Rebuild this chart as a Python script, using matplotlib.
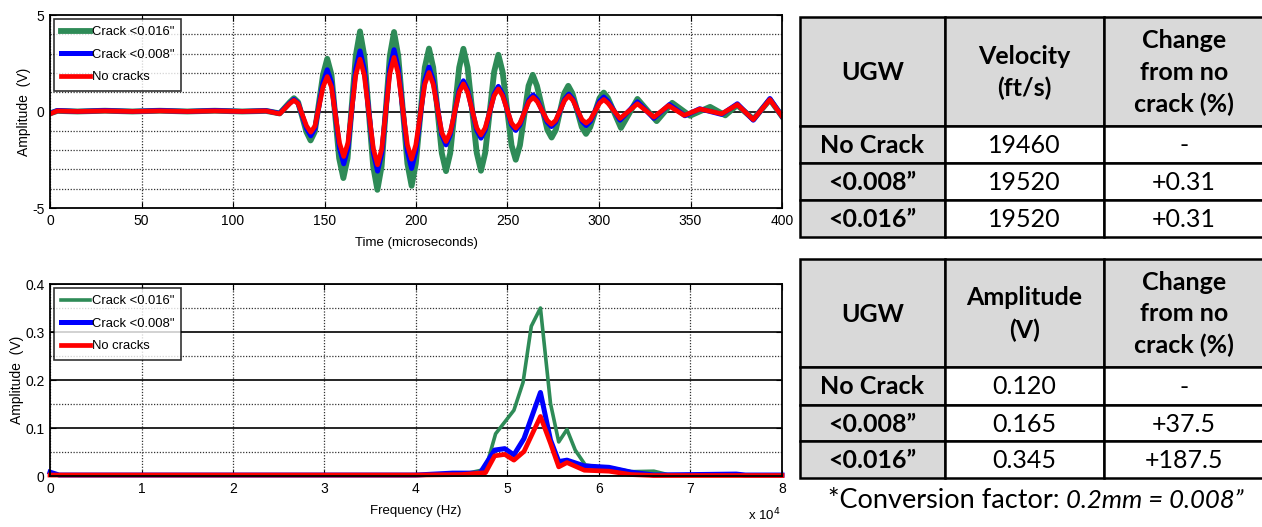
import matplotlib
matplotlib.use('Agg')
import matplotlib.pyplot as plt
from matplotlib.patches import Rectangle
from matplotlib.ticker import FuncFormatter

plt.rcParams['font.family'] = ['Liberation Sans', 'DejaVu Sans']
plt.rcParams['axes.unicode_minus'] = False

# * time signals (microseconds, V): peaks, troughs and their shoulders
t_crack16 = [0, 4, 15, 30, 45, 60, 75, 90, 105, 118, 125.5,
             131.0, 133.3, 135.6, 140.1, 142.4, 144.7, 149.2, 151.5, 153.8, 158.0, 160.3, 162.6,
             167.1, 169.4, 171.7, 176.6, 178.9, 181.2, 185.7, 188.0, 190.3, 195.3, 197.6, 199.9,
             204.8, 207.1, 209.4, 214.1, 216.4, 218.7, 223.6, 225.9, 228.2, 233.2, 235.5, 237.8,
             242.7, 245.0, 247.3, 252.2, 254.5, 256.8, 261.5, 263.8, 266.1, 271.8, 274.1, 276.4,
             280.9, 283.2, 285.5, 290.6, 292.9, 295.2, 300.3, 302.6, 304.9,
             312.0, 321.0, 331.5, 340.0, 349.7, 360.7, 369.0, 375.5, 384.4, 393.4, 400]
v_crack16 = [-0.1, 0.03, 0.0, 0.04, 0.0, 0.04, 0.0, 0.04, 0.0, 0.03, -0.1,
             0.48, 0.69, 0.48, -1.05, -1.5, -1.05, 1.91, 2.73, 1.91, -2.42, -3.45, -2.42,
             2.9, 4.15, 2.9, -2.84, -4.06, -2.84, 2.88, 4.12, 2.88, -2.7, -3.85, -2.7,
             2.28, 3.26, 2.28, -2.16, -3.09, -2.16, 2.28, 3.25, 2.28, -2.15, -3.07, -2.15,
             2.06, 2.94, 2.06, -1.75, -2.5, -1.75, 1.33, 1.9, 1.33, -0.95, -1.35, -0.95,
             0.93, 1.33, 0.93, -0.81, -1.16, -0.81, 0.69, 0.98, 0.69,
             -0.85, 0.65, -0.5, 0.45, -0.22, 0.24, -0.2, 0.33, -0.4, 0.62, -0.25]

t_crack08 = [0, 4, 15, 30, 45, 60, 75, 90, 105, 118, 125.5,
             131.0, 133.3, 135.6, 140.2, 142.5, 144.8, 149.2, 151.5, 153.8, 158.2, 160.5, 162.8,
             167.1, 169.4, 171.7, 176.7, 179.0, 181.3, 185.7, 188.0, 190.3, 195.3, 197.6, 199.9,
             204.8, 207.1, 209.4, 214.1, 216.4, 218.7, 223.6, 225.9, 228.2, 233.2, 235.5, 237.8,
             242.7, 245.0, 247.3, 252.2, 254.5, 256.8, 261.7, 264.0, 266.3, 271.7, 274.0, 276.3,
             281.2, 283.5, 285.8, 290.7, 293.0, 295.3, 300.3, 302.6, 304.9,
             311.5, 321.0, 330.0, 338.5, 347.0, 355.0, 367.0, 375.6, 384.3, 393.4, 400]
v_crack08 = [-0.1, 0.05, 0.0, 0.05, 0.0, 0.05, 0.0, 0.05, 0.0, 0.04, -0.1,
             0.43, 0.62, 0.43, -0.88, -1.26, -0.88, 1.51, 2.16, 1.51, -1.9, -2.71, -1.9,
             2.2, 3.14, 2.2, -2.16, -3.09, -2.16, 2.24, 3.2, 2.24, -2.07, -2.95, -2.07,
             1.61, 2.3, 1.61, -1.21, -1.73, -1.21, 1.11, 1.59, 1.11, -0.97, -1.38, -0.97,
             0.91, 1.3, 0.91, -0.69, -0.98, -0.69, 0.6, 0.86, 0.6, -0.55, -0.78, -0.55,
             0.63, 0.9, 0.63, -0.51, -0.73, -0.51, 0.53, 0.75, 0.53,
             -0.45, 0.5, -0.35, 0.36, -0.22, 0.14, -0.15, 0.4, -0.45, 0.67, -0.25]

t_nocrack = [0, 4, 15, 30, 45, 60, 75, 90, 105, 118, 125.5,
             131.0, 133.3, 135.6, 140.2, 142.5, 144.8, 149.2, 151.5, 153.8, 158.2, 160.5, 162.8,
             167.1, 169.4, 171.7, 176.7, 179.0, 181.3, 185.7, 188.0, 190.3, 195.3, 197.6, 199.9,
             204.8, 207.1, 209.4, 214.1, 216.4, 218.7, 223.6, 225.9, 228.2, 233.2, 235.5, 237.8,
             242.7, 245.0, 247.3, 252.2, 254.5, 256.8, 261.7, 264.0, 266.3, 271.7, 274.0, 276.3,
             281.2, 283.5, 285.8, 290.7, 293.0, 295.3, 300.3, 302.6, 304.9,
             311.5, 321.0, 330.0, 338.0, 346.5, 355.2, 367.0, 375.6, 384.3, 393.4, 400]
v_nocrack = [-0.12, 0.03, 0.0, 0.03, 0.0, 0.03, 0.0, 0.03, 0.0, 0.03, -0.12,
             0.41, 0.58, 0.41, -0.75, -1.07, -0.75, 1.27, 1.81, 1.27, -1.63, -2.33, -1.63,
             1.9, 2.71, 1.9, -1.93, -2.76, -1.93, 1.96, 2.8, 1.96, -1.73, -2.47, -1.73,
             1.41, 2.02, 1.41, -1.09, -1.55, -1.09, 1.0, 1.43, 1.0, -0.85, -1.21, -0.85,
             0.82, 1.17, 0.82, -0.6, -0.86, -0.6, 0.51, 0.73, 0.51, -0.46, -0.66, -0.46,
             0.57, 0.81, 0.57, -0.42, -0.6, -0.42, 0.43, 0.62, 0.43,
             -0.36, 0.4, -0.29, 0.31, -0.2, 0.13, -0.12, 0.36, -0.42, 0.62, -0.25]

# * spectra (Hz, V)
f_crack16 = [0, 40000, 45000, 47600, 48700, 50700, 51700, 52600, 53600, 54700, 55600, 56500,
             57400, 58500, 59900, 61300, 63500, 66000, 67500, 70000, 80000]
a_crack16 = [0.002, 0.002, 0.003, 0.014, 0.088, 0.137, 0.195, 0.312, 0.350, 0.151, 0.071, 0.097,
             0.054, 0.023, 0.019, 0.017, 0.009, 0.010, 0.003, 0.002, 0.002]

f_crack08 = [0, 1000, 40000, 44000, 47000, 48600, 49700, 50700, 51800, 53600, 54700, 55600,
             56500, 58400, 61100, 63500, 66000, 75000, 76000, 80000]
a_crack08 = [0.008, 0.002, 0.002, 0.006, 0.006, 0.054, 0.057, 0.044, 0.078, 0.174, 0.075, 0.030,
             0.033, 0.021, 0.018, 0.008, 0.002, 0.004, 0.002, 0.002]

f_nocrack = [0, 40000, 45000, 47600, 48600, 49700, 50700, 51800, 53600, 54700, 55600, 56500,
             58400, 61100, 63500, 66000, 80000]
a_nocrack = [0.002, 0.002, 0.003, 0.007, 0.042, 0.045, 0.033, 0.051, 0.124, 0.068, 0.019, 0.028,
             0.012, 0.010, 0.003, 0.001, 0.001]

labels = ['Crack <0.016"', 'Crack <0.008"', 'No cracks']
colors = ['#2E8B57', '#0000FF', '#FF0000']

# * table contents
row_names = ['No Crack', '<0.008\u201d', '<0.016\u201d']
vel_header = ['UGW', 'Velocity\n(ft/s)', 'Change\nfrom no\ncrack (%)']
velocity = ['19460', '19520', '19520']
vel_change = ['-', '+0.31', '+0.31']
amp_header = ['UGW', 'Amplitude\n(V)', 'Change\nfrom no\ncrack (%)']
amplitude = ['0.120', '0.165', '0.345']
amp_change = ['-', '+37.5', '+187.5']

W, H = 1262, 527
fig = plt.figure(figsize=(W / 100, H / 100), dpi=100)


def px_axes(left, top, right, bottom):
    return fig.add_axes([left / W, 1 - bottom / H, (right - left) / W, (bottom - top) / H])


def style_axes(ax):
    ax.tick_params(direction='in', top=True, right=True, length=4, labelsize=10, pad=4)
    for s in ax.spines.values():
        s.set_linewidth(1.3)


def add_legend(ax):
    leg = ax.legend(loc='upper left', fontsize=9.4, frameon=True, fancybox=False, edgecolor='k',
                    borderaxespad=0.3, handlelength=2.2, handletextpad=0.15, labelspacing=0.8,
                    borderpad=0.55)
    leg.get_frame().set_linewidth(1.2)


dot = (0, (1, 1.3))

# * top: time domain
ax1 = px_axes(50, 15, 782, 208)
ax1.plot(t_crack16, v_crack16, color=colors[0], lw=4.2, label=labels[0], solid_joinstyle='round')
ax1.plot(t_crack08, v_crack08, color=colors[1], lw=3.6, label=labels[1], solid_joinstyle='round')
ax1.plot(t_nocrack, v_nocrack, color=colors[2], lw=3.4, label=labels[2], solid_joinstyle='round')
ax1.set_xlim(0, 400)
ax1.set_ylim(-5, 5)
ax1.set_xticks(range(0, 401, 50))
ax1.set_yticks([-5, 0, 5])
ax1.set_yticks(range(-4, 5), minor=True)
ax1.tick_params(which='minor', length=0)
ax1.grid(axis='x', which='major', color='0.2', lw=0.9, ls=dot)
ax1.grid(axis='y', which='minor', color='0.2', lw=0.9, ls=dot)
ax1.axhline(0, color='k', lw=1.2, zorder=1)
ax1.set_axisbelow(True)
style_axes(ax1)
ax1.set_xlabel('Time (microseconds)', fontsize=9.5, labelpad=7)
ax1.set_ylabel('Amplitude  (V)', fontsize=10, labelpad=1)
add_legend(ax1)

# * bottom: frequency domain
ax2 = px_axes(50, 284, 782, 476)
ax2.plot(f_crack16, a_crack16, color=colors[0], lw=2.6, label=labels[0], clip_on=False)
ax2.plot(f_crack08, a_crack08, color=colors[1], lw=3.6, label=labels[1], clip_on=False)
ax2.plot(f_nocrack, a_nocrack, color=colors[2], lw=3.4, label=labels[2], clip_on=False)
ax2.set_xlim(0, 80000)
ax2.set_ylim(0, 0.4)
ax2.set_xticks(range(0, 80001, 10000))
ax2.xaxis.set_major_formatter(FuncFormatter(lambda v, p: '%g' % (v / 1e4)))
ax2.set_yticks([0, 0.1, 0.2, 0.3, 0.4])
ax2.set_yticklabels(['0', '0.1', '0.2', '0.3', '0.4'])
ax2.set_yticks([0.05, 0.15, 0.25, 0.35], minor=True)
ax2.tick_params(which='minor', length=0)
ax2.grid(axis='x', which='major', color='0.2', lw=0.9, ls=dot)
ax2.grid(axis='y', which='major', color='k', lw=1.2, ls='-')
ax2.grid(axis='y', which='minor', color='0.2', lw=0.9, ls=dot)
ax2.set_axisbelow(True)
style_axes(ax2)
ax2.set_xlabel('Frequency (Hz)', fontsize=9.5, labelpad=7)
ax2.set_ylabel('Amplitude  (V)', fontsize=10, labelpad=1)
ax2.text(0.998, -0.205, 'x 10$^4$', transform=ax2.transAxes, ha='right', va='center', fontsize=9.5)
add_legend(ax2)

# * tables (pixel canvas)
axt = fig.add_axes([0, 0, 1, 1])
axt.set_xlim(0, W)
axt.set_ylim(H, 0)
axt.axis('off')

col_x = [800, 945, 1104, 1264]
gray = '#D9D9D9'
tfont = 'Lato'
tsize = 18


def draw_table(row_y, header, col2, col3):
    for c in range(3):
        axt.add_patch(Rectangle((col_x[c], row_y[0]), col_x[c + 1] - col_x[c], row_y[1] - row_y[0],
                                facecolor=gray, edgecolor='k', lw=1.8, clip_on=False))
        axt.text((col_x[c] + col_x[c + 1]) / 2, (row_y[0] + row_y[1]) / 2 + 1, header[c],
                 ha='center', va='center', fontsize=tsize, fontweight='bold', family=tfont,
                 linespacing=1.45)
    for r in range(3):
        y0, y1 = row_y[r + 1], row_y[r + 2]
        cells = [row_names[r], col2[r], col3[r]]
        for c in range(3):
            axt.add_patch(Rectangle((col_x[c], y0), col_x[c + 1] - col_x[c], y1 - y0,
                                    facecolor=gray if c == 0 else 'white', edgecolor='k',
                                    lw=1.8, clip_on=False))
            axt.text((col_x[c] + col_x[c + 1]) / 2, (y0 + y1) / 2 + 1, cells[c],
                     ha='center', va='center', fontsize=tsize, family=tfont,
                     fontweight='bold' if c == 0 else 'normal')


draw_table([17, 126, 163, 200, 237], vel_header, velocity, vel_change)
draw_table([259, 367, 405, 441, 478], amp_header, amplitude, amp_change)

# footnote: regular part then italic part, both on the same baseline
axt.text(828, 508, '*Conversion factor:', ha='left', va='baseline', fontsize=19.5, family=tfont)
axt.text(1244, 508, '0.2mm = 0.008\u201d', ha='right', va='baseline', fontsize=18.5, family=tfont,
         style='italic')

fig.savefig('out.png', dpi=100)
